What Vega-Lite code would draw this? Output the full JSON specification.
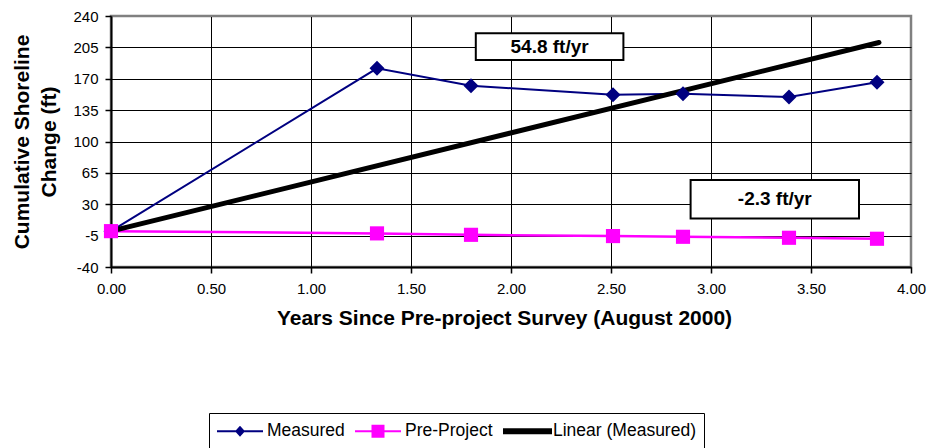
{
  "$schema": "https://vega.github.io/schema/vega-lite/v6.json",
  "autosize": {"type": "none"},
  "width": 800,
  "height": 251,
  "padding": {"left": 111, "top": 16, "right": 23, "bottom": 181},
  "background": "white",
  "config": {
    "font": "Liberation Sans",
    "locale": {"number": {"decimal": ".", "thousands": ",", "grouping": [3], "currency": ["$", ""], "minus": "-"}},
    "view": {"stroke": "#808080", "strokeWidth": 2.5},
    "axis": {
      "labelFont": "Liberation Sans",
      "labelFontSize": 15,
      "labelColor": "black",
      "titleFont": "Liberation Sans",
      "titleFontWeight": "bold",
      "titleFontSize": 21,
      "titleColor": "black",
      "domainColor": "black",
      "domainWidth": 2,
      "tickColor": "black",
      "tickWidth": 1.5,
      "tickSize": 6,
      "gridOpacity": 1,
      "gridWidth": 1
    }
  },
  "datasets": {
    "series": [
      {"series": "Measured", "years": 0, "change": 0},
      {"series": "Measured", "years": 1.33, "change": 181.6},
      {"series": "Measured", "years": 1.8, "change": 162.2},
      {"series": "Measured", "years": 2.51, "change": 152.2},
      {"series": "Measured", "years": 2.86, "change": 153.3},
      {"series": "Measured", "years": 3.39, "change": 149.6},
      {"series": "Measured", "years": 3.83, "change": 166},
      {"series": "Pre-Project", "years": 0, "change": 0},
      {"series": "Pre-Project", "years": 1.33, "change": -2.5},
      {"series": "Pre-Project", "years": 1.8, "change": -4.1},
      {"series": "Pre-Project", "years": 2.51, "change": -5.5},
      {"series": "Pre-Project", "years": 2.86, "change": -6.3},
      {"series": "Pre-Project", "years": 3.39, "change": -7.4},
      {"series": "Pre-Project", "years": 3.83, "change": -8.5},
      {"series": "Linear (Measured)", "years": 0, "change": 0},
      {"series": "Linear (Measured)", "years": 3.84, "change": 210.4}
    ],
    "notes": [
      {"label": "54.8 ft/yr", "x1": 1.824, "x2": 2.562, "y1": 190.9, "y2": 220.7, "xc": 2.193, "yc": 205.8},
      {"label": "-2.3 ft/yr", "x1": 2.898, "x2": 3.74, "y1": 14.2, "y2": 57, "xc": 3.319, "yc": 35.6}
    ]
  },
  "layer": [
    {
      "data": {"name": "series"},
      "transform": [{"filter": "datum.series === 'Measured'"}],
      "mark": {"type": "line", "color": "#000080", "strokeWidth": 2},
      "encoding": {
        "x": {
          "field": "years", "type": "quantitative",
          "scale": {"domain": [0, 4], "nice": false, "zero": false},
          "axis": {
            "title": "Years Since Pre-project Survey (August 2000)",
            "values": [0, 0.5, 1, 1.5, 2, 2.5, 3, 3.5, 4],
            "tickCount": 9,
            "format": ".2f",
            "grid": true,
            "gridColor": {"condition": {"test": "datum.value === 4", "value": "#808080"}, "value": "black"},
            "labelPadding": 8,
            "titlePadding": 11,
            "titleX": 393,
            "labelFlush": false
          }
        },
        "y": {
          "field": "change", "type": "quantitative",
          "scale": {"domain": [-40, 240], "nice": false, "zero": false},
          "axis": {
            "title": ["Cumulative Shoreline", "Change (ft)"],
            "values": [-40, -5, 30, 65, 100, 135, 170, 205, 240],
            "tickCount": 9,
            "labelOverlap": false,
            "grid": true,
            "gridColor": {"condition": {"test": "datum.value === 240", "value": "#808080"}, "value": "black"},
            "labelPadding": 7,
            "titlePadding": 13,
            "titleLineHeight": 27,
            "labelFlush": false
          }
        }
      }
    },
    {
      "data": {"name": "series"},
      "transform": [{"filter": "datum.series === 'Pre-Project'"}],
      "mark": {"type": "line", "color": "#FF00FF", "strokeWidth": 2.5},
      "encoding": {
        "x": {"field": "years", "type": "quantitative"},
        "y": {"field": "change", "type": "quantitative"}
      }
    },
    {
      "data": {"name": "series"},
      "transform": [{"filter": "datum.series === 'Linear (Measured)'"}],
      "mark": {"type": "line", "color": "black", "strokeWidth": 5, "strokeCap": "round"},
      "encoding": {
        "x": {"field": "years", "type": "quantitative"},
        "y": {"field": "change", "type": "quantitative"}
      }
    },
    {
      "data": {"name": "series"},
      "transform": [{"filter": "datum.series === 'Measured'"}],
      "mark": {"type": "point", "shape": "diamond", "size": 225, "filled": true, "opacity": 1, "color": "#000080"},
      "encoding": {
        "x": {"field": "years", "type": "quantitative"},
        "y": {"field": "change", "type": "quantitative"}
      }
    },
    {
      "data": {"name": "series"},
      "transform": [{"filter": "datum.series === 'Pre-Project'"}],
      "mark": {"type": "point", "shape": "square", "size": 200, "filled": true, "opacity": 1, "color": "#FF00FF"},
      "encoding": {
        "x": {"field": "years", "type": "quantitative"},
        "y": {"field": "change", "type": "quantitative"}
      }
    },
    {
      "data": {"name": "series"},
      "transform": [{"filter": "datum.years === 0"}],
      "mark": {"type": "point", "filled": true, "opacity": 0, "size": 400},
      "encoding": {
        "x": {"field": "years", "type": "quantitative"},
        "y": {"field": "change", "type": "quantitative"},
        "color": {
          "field": "series", "type": "nominal",
          "scale": {
            "domain": ["Measured", "Pre-Project", "Linear (Measured)"],
            "range": ["#000080", "#FF00FF", "#000000"]
          },
          "legend": {
            "title": null,
            "orient": "none",
            "legendX": 98,
            "legendY": 397,
            "direction": "horizontal",
            "strokeColor": "black",
            "fillColor": "white",
            "padding": 8,
            "columnPadding": 10,
            "labelFont": "Liberation Sans",
            "labelFontSize": 17.5,
            "labelColor": "black",
            "labelOffset": 30,
            "symbolSize": 400,
            "symbolStrokeWidth": 0,
            "symbolOpacity": 1
          }
        },
        "shape": {
          "field": "series", "type": "nominal",
          "scale": {
            "domain": ["Measured", "Pre-Project", "Linear (Measured)"],
            "range": [
              "M-1,-0.1H3.6V0.1H-1Z M1.3,-0.55L1.8,0L1.3,0.55L0.8,0Z",
              "M-1,-0.1H3.6V0.1H-1Z M0.65,-0.65H1.95V0.65H0.65Z",
              "M-1,-0.3H3.9V0.3H-1Z"
            ]
          },
          "legend": null
        }
      }
    },
    {
      "data": {"name": "notes"},
      "mark": {"type": "rect", "fill": "white", "stroke": "black", "strokeWidth": 2},
      "encoding": {
        "x": {"field": "x1", "type": "quantitative"},
        "x2": {"field": "x2"},
        "y": {"field": "y1", "type": "quantitative"},
        "y2": {"field": "y2"}
      }
    },
    {
      "data": {"name": "notes"},
      "mark": {"type": "text", "font": "Liberation Sans", "fontWeight": "bold", "fontSize": 19, "color": "black", "align": "center", "baseline": "middle"},
      "encoding": {
        "x": {"field": "xc", "type": "quantitative"},
        "y": {"field": "yc", "type": "quantitative"},
        "text": {"field": "label"}
      }
    }
  ]
}
